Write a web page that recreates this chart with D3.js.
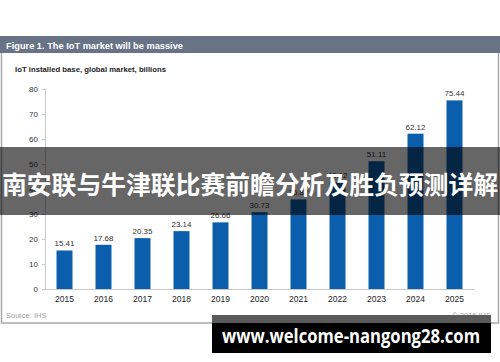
<!DOCTYPE html>
<html>
<head>
<meta charset="utf-8">
<script src="https://cdn.jsdelivr.net/npm/d3@7"></script>
<style>
  html, body { margin: 0; padding: 0; background: #fff; }
  svg { display: block; }
</style>
</head>
<body>
<svg id="chart" width="500" height="362"></svg>
<script>
// values
const years = ['2015', '2016', '2017', '2018', '2019', '2020', '2021', '2022', '2023', '2024', '2025'];
const installedBase = [15.41, 17.68, 20.35, 23.14, 26.66, 30.73, 35.82, 42.62, 51.11, 62.12, 75.44];
const yTicks = [0, 10, 20, 30, 40, 50, 60, 70, 80];

const svg = d3.select('#chart');
const font = '"Liberation Sans", Arial, sans-serif';

// panel + header bar
svg.append('rect')
    .attr('x', 1.5).attr('y', 45)
    .attr('width', 497).attr('height', 278)
    .attr('fill', '#fff')
    .attr('stroke', '#a9a9a9')
    .attr('stroke-width', 1.5);
svg.append('rect')
    .attr('x', 0).attr('y', 36)
    .attr('width', 500).attr('height', 17)
    .attr('fill', '#687386');
svg.append('text')
    .attr('x', 6).attr('y', 48.5)
    .attr('fill', '#fff')
    .attr('font-family', font)
    .attr('font-size', '9.5px')
    .attr('font-weight', 'bold')
    .attr('textLength', 177)
    .attr('lengthAdjust', 'spacingAndGlyphs')
    .text('Figure 1. The IoT market will be massive');

svg.append('text')
    .attr('x', 15).attr('y', 72)
    .attr('fill', '#222')
    .attr('font-family', font)
    .attr('font-size', '7.5px')
    .attr('font-weight', 'bold')
    .attr('textLength', 151)
    .attr('lengthAdjust', 'spacingAndGlyphs')
    .text('IoT installed base, global market, billions');

const x = d3.scaleBand()
    .domain(years)
    .range([45, 474])
    .paddingInner(0.59)
    .paddingOuter(0.295);

const y = d3.scaleLinear()
    .domain([0, 80])
    .range([289, 89]);

// y axis
const yAxis = svg.append('g')
    .attr('transform', 'translate(45,0)')
    .call(d3.axisLeft(y).tickValues(yTicks).tickSize(3).tickPadding(4));
yAxis.select('.domain').attr('stroke', '#c8c8c8');
yAxis.selectAll('.tick line').attr('stroke', '#c8c8c8');
yAxis.selectAll('.tick text')
    .attr('fill', '#333')
    .attr('font-family', font)
    .attr('font-size', '8px');

// x axis
const xAxis = svg.append('g')
    .attr('transform', 'translate(0,289)')
    .call(d3.axisBottom(x).tickSize(0).tickPadding(7));
xAxis.select('.domain').attr('stroke', '#c8c8c8');
xAxis.selectAll('.tick text')
    .attr('fill', '#222')
    .attr('font-family', font)
    .attr('font-size', '8.5px');

// bars
svg.append('g')
    .selectAll('rect')
    .data(installedBase)
    .join('rect')
    .attr('x', (d, i) => x(years[i]))
    .attr('y', d => y(d))
    .attr('width', x.bandwidth())
    .attr('height', d => y(0) - y(d))
    .attr('fill', '#0b5eab');

svg.append('g')
    .selectAll('text')
    .data(installedBase)
    .join('text')
    .attr('x', (d, i) => x(years[i]) + x.bandwidth() / 2)
    .attr('y', d => y(d) - 4)
    .attr('text-anchor', 'middle')
    .attr('fill', '#333')
    .attr('font-family', font)
    .attr('font-size', '8px')
    .text(d => d.toFixed(2));

// footer notes
svg.append('text')
    .attr('x', 6).attr('y', 318)
    .attr('fill', '#a0a0a0')
    .attr('font-family', font)
    .attr('font-size', '7.5px')
    .text('Source: IHS');
svg.append('text')
    .attr('x', 491).attr('y', 318)
    .attr('text-anchor', 'end')
    .attr('fill', '#a0a0a0')
    .attr('font-family', font)
    .attr('font-size', '7.5px')
    .text('© 2016 IHS');

// overlay banner across the middle
svg.append('rect')
    .attr('x', 0).attr('y', 147)
    .attr('width', 500).attr('height', 68)
    .attr('fill', 'rgba(0,0,0,0.6)');
svg.append('text')
    .attr('x', 250).attr('y', 183)
    .attr('text-anchor', 'middle')
    .attr('dominant-baseline', 'central')
    .attr('fill', '#fff')
    .attr('font-family', '"Noto Sans CJK SC", sans-serif')
    .attr('font-size', '24.5px')
    .attr('font-weight', 'bold')
    .attr('textLength', 496)
    .attr('lengthAdjust', 'spacingAndGlyphs')
    .text('南安联与牛津联比赛前瞻分析及胜负预测详解');

// watermark box
svg.append('rect')
    .attr('x', 212).attr('y', 315)
    .attr('width', 279).attr('height', 8)
    .attr('fill', '#5a5a5a');
svg.append('rect')
    .attr('x', 212).attr('y', 323)
    .attr('width', 279).attr('height', 30)
    .attr('fill', '#000');
svg.append('text')
    .attr('x', 351).attr('y', 336)
    .attr('text-anchor', 'middle')
    .attr('dominant-baseline', 'central')
    .attr('fill', '#fff')
    .attr('font-family', '"Open Sans", "DejaVu Sans", sans-serif')
    .attr('font-size', '19px')
    .attr('font-weight', 'bold')
    .attr('textLength', 258)
    .attr('lengthAdjust', 'spacingAndGlyphs')
    .text('www.welcome-nangong28.com');
</script>
</body>
</html>
